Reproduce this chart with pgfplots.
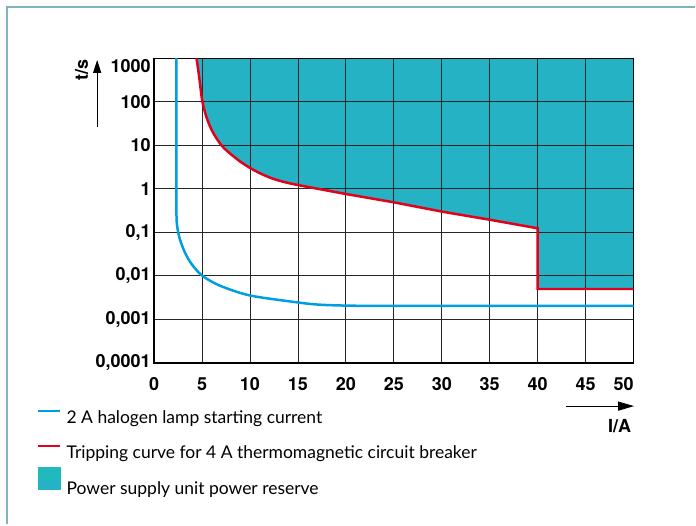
\documentclass[border=0pt]{standalone}
\usepackage{pgfplots}
\pgfplotsset{compat=1.18}
\usepackage{fontspec}
\setmainfont{Lato}
\newfontfamily\helv{TeX Gyre Heros}
\usetikzlibrary{arrows.meta}
\definecolor{cblue}{RGB}{0,158,224}
\definecolor{cred}{RGB}{226,0,26}
\definecolor{cteal}{RGB}{36,178,196}
\definecolor{cteal2}{RGB}{32,185,190}
\definecolor{cframe}{RGB}{127,179,192}
\begin{document}
\begin{tikzpicture}
\draw[cframe, line width=2pt] (6.7pt,0pt) -- (6.7pt,517.5pt) -- (696pt,517.5pt);
\begin{axis}[
  set layers,
  scale only axis, width=480.2pt, height=305.2pt,
  at={(154.3pt,161.5pt)}, anchor=south west,
  xmin=0, xmax=50, ymin=1e-4, ymax=1e3, ymode=log,
  xtick={0,5,...,50},
  ytick={1e-4,1e-3,1e-2,1e-1,1,10,100,1000},
  xticklabels={0,5,10,15,20,25,30,35,40,45,\makebox[0pt][r]{50}},
  yticklabels={{0,0001},{0,001},{0,01},{0,1},1,10,100,\rule{0pt}{28.8pt}1000},
  yminorticks=false,
  major tick length=0pt,
  grid=major,
  major grid style={black!85, line width=0.8pt},
  axis line style={black, line width=1.2pt},
  ticklabel style={font=\helv\bfseries\fontsize{18}{18}\selectfont, inner sep=0pt},
  xticklabel style={yshift=-14.5pt},
  yticklabel style={xshift=-3.3pt},
  xlabel={I/A}, ylabel={t/s},
  label style={font=\helv\bfseries\fontsize{18}{18}\selectfont, inner sep=0pt},
  xlabel style={at={(rel axis cs:0.971,-0.208)}, anchor=center},
  ylabel style={at={(rel axis cs:-0.1512,0.9607)}, anchor=center},
  legend cell align=left,
  legend style={at={(rel axis cs:-0.2443,-0.1533)}, anchor=north west,
    draw=none, fill=none, inner sep=0pt, outer sep=0pt,
    font=\fontsize{17.5}{18}\selectfont, row sep=17.5pt,
    nodes={inner sep=0pt, text height=13pt, text depth=4pt},
    /tikz/every odd column/.append style={column sep=5.7pt}},
]
\addplot[cblue, line width=2.5pt, smooth,
  legend image code/.code={\draw[cblue, line width=2pt] (0pt,8pt) -- (22pt,8pt);}]
  coordinates {(2.33,1000) (2.33,1) (2.33,0.29) (2.40,0.142) (2.68,0.0706) (3.2,0.0351)
   (3.9,0.0189) (5,0.0102) (6.84,0.0060) (9.97,0.00356) (14.66,0.00251) (17,0.0022)
   (20,0.00208) (25,0.00205) (50,0.00205)};
\addlegendentry{2 A halogen lamp starting current}
\addplot[cred, line width=2.5pt, smooth,
  legend image code/.code={\draw[cred, line width=2pt] (0pt,8pt) -- (22pt,8pt);}]
  coordinates {(4.42,1000) (4.6,550) (4.78,270) (4.92,150) (5.04,100) (5.3,58)
   (5.63,35) (6,22.5) (6.5,14.6) (7.02,10) (7.5,7.8) (8.06,6.1) (9,4.2) (9.97,3.05)
   (11,2.3) (12.05,1.82) (13,1.55) (14,1.36) (15,1.22)};
\addlegendentry{Tripping curve for 4 A thermomagnetic circuit breaker}
\addplot[forget plot, cred, line width=2.5pt]
  coordinates {(15,1.22) (20,0.76) (25,0.49) (30,0.30) (35,0.195) (40,0.124) (40,0.005) (50.5,0.005)};
\addplot[on layer=axis background, fill=cteal, draw=none,
  legend image code/.code={\fill[cteal2, overlay] (0pt,-0.7pt) rectangle (23pt,22.3pt); \path (0pt,0pt) rectangle (22pt,10pt);}]
  coordinates {(4.42,1000) (4.6,550) (4.78,270) (4.92,150) (5.04,100) (5.3,58)
   (5.63,35) (6,22.5) (6.5,14.6) (7.02,10) (7.5,7.8) (8.06,6.1) (9,4.2) (9.97,3.05)
   (11,2.3) (12.05,1.82) (13,1.55) (14,1.36) (15,1.22) (20,0.76) (25,0.49)
   (30,0.30) (35,0.195) (40,0.124) (40,0.005) (50,0.005) (50,1000)};
\addlegendentry{Power supply unit power reserve}
\end{axis}
\draw[line width=1.2pt, -{Triangle[length=13pt,width=8pt]}] (97.3pt,398.3pt) -- (97.3pt,465pt);
\draw[line width=1.2pt, -{Triangle[length=16pt,width=9pt]}] (566.7pt,118.3pt) -- (635pt,118.3pt);
\path (0,0) rectangle (696pt,525pt);
\end{tikzpicture}
\end{document}
